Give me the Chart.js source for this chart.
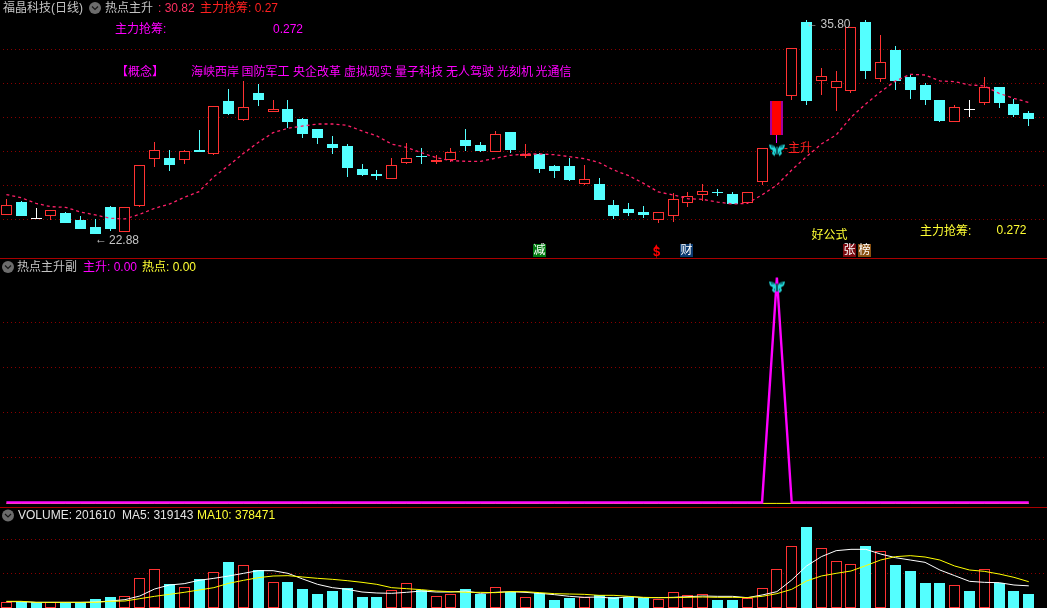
<!DOCTYPE html>
<html>
<head>
<meta charset="utf-8">
<title>福晶科技(日线)</title>
<script src="https://cdn.jsdelivr.net/npm/chart.js@4"></script>
<style>
html,body{margin:0;padding:0;background:#000;overflow:hidden;width:1047px;height:608px}
canvas{position:absolute;left:-1px;display:block}
.sep{position:absolute;left:0;width:1047px;height:1px;background:#a80000}
</style>
</head>
<body>
<canvas id="price" width="1052" height="258" style="top:0"></canvas>
<canvas id="signal" width="1052" height="248" style="top:259px"></canvas>
<canvas id="volume" width="1052" height="100" style="top:508px"></canvas>
<div class="sep" style="top:258px"></div>
<div class="sep" style="top:507px"></div>
<script>
// ---------- data ----------
const opens  = [24.05,24.79,23.77,23.99,24.13,23.73,23.30,24.51,23.02,24.59,27.43,27.45,27.37,27.95,27.73,30.91,29.78,31.39,30.27,30.43,29.82,29.22,28.31,28.19,26.80,26.50,26.22,27.17,27.59,27.25,27.33,28.56,28.25,27.85,29.04,27.61,27.71,26.99,26.99,25.92,25.90,24.63,24.39,24.21,23.75,23.99,24.77,25.26,25.38,25.28,24.73,26.04,28.86,31.23,35.68,32.14,31.71,31.53,35.68,32.26,33.99,32.36,31.88,30.97,29.66,30.35,30.81,31.75,30.73,30.19];
const highs  = [24.97,24.85,24.43,24.31,24.21,23.97,23.79,24.59,24.49,27.03,28.41,27.95,27.95,29.16,30.63,31.63,32.12,31.94,30.97,30.97,29.88,29.22,28.80,28.31,27.11,26.74,27.47,28.37,28.07,27.65,28.07,29.22,28.43,29.10,29.04,28.31,27.77,27.05,27.47,27.05,26.26,24.93,24.75,24.57,24.19,25.36,25.42,25.90,25.58,25.42,25.40,28.05,30.91,34.09,35.80,32.90,32.72,35.36,35.80,34.89,34.23,32.48,31.98,30.97,30.67,30.97,32.36,31.75,31.03,30.31];
const lows   = [24.05,23.97,23.77,23.75,23.54,23.18,22.88,23.08,23.02,24.49,26.95,26.68,27.13,27.83,27.67,30.06,29.72,30.61,30.27,29.28,28.68,28.31,27.71,26.32,26.38,26.14,26.22,27.11,27.11,27.11,27.23,27.89,27.83,27.85,27.77,27.49,26.56,26.26,26.08,25.84,24.93,23.79,23.97,23.85,23.54,23.61,24.51,24.89,25.17,24.67,24.69,25.84,28.35,30.97,30.67,31.27,30.31,31.41,32.24,32.06,31.57,31.03,30.67,29.64,29.66,29.94,30.67,30.49,29.94,29.40];
const closes = [24.61,23.97,23.77,24.31,23.54,23.18,22.88,23.18,24.49,27.03,27.93,27.05,27.87,27.83,30.63,30.12,30.53,30.97,30.43,29.64,28.92,28.68,28.07,26.87,26.44,26.38,27.03,27.45,27.53,27.35,27.81,28.19,27.89,28.90,27.95,27.71,26.80,26.68,26.14,26.18,24.93,23.97,24.15,24.03,24.19,24.97,25.15,25.46,25.34,24.71,25.40,28.05,30.91,34.09,30.91,32.40,32.10,35.36,32.72,33.24,32.12,31.57,30.97,29.70,30.53,30.35,31.73,30.79,30.06,29.82];
const mainRise = [25.26,25.07,24.73,24.53,24.49,24.21,24.03,23.83,23.79,24.07,24.43,24.69,25.09,25.44,26.34,27.01,27.75,28.41,29.00,29.26,29.40,29.52,29.52,29.44,29.10,28.80,28.31,28.11,27.79,27.49,27.31,27.27,27.27,27.45,27.63,27.71,27.71,27.67,27.55,27.43,27.19,26.74,26.40,25.94,25.42,25.24,25.01,24.97,24.81,24.69,24.73,25.24,25.84,26.74,27.55,28.31,28.86,29.92,30.73,31.47,32.12,32.52,32.48,32.12,32.08,31.88,31.82,31.37,31.07,30.82];
const volumes = [81600,81600,81600,81600,81600,81600,129600,158400,172800,427200,561600,340800,297600,412800,513600,662400,614400,547200,369600,374400,273600,201600,244800,288000,158400,158400,254400,355200,259200,168000,196800,273600,201600,297600,230400,153600,211200,115200,144000,153600,182400,158400,158400,144000,124800,225600,182400,196800,115200,115200,139200,283200,556800,888000,1166400,859200,672000,628800,892800,816000,619200,532800,360000,360000,326400,244800,556800,364800,244800,201610];
const volumeMa5 = [91200,91200,81600,81600,81600,81600,86400,100800,120000,172800,273600,331200,350400,398400,427200,460800,499200,537600,537600,499200,417600,340800,292800,268800,230400,216000,211200,225600,244800,230400,230400,244800,211200,225600,235200,225600,211200,192000,168000,153600,158400,139200,163200,148800,148800,153600,163200,172800,168000,168000,148800,187200,235200,403200,604800,739200,825600,844800,844800,777600,724800,691200,657600,547200,465600,384000,369600,364800,331200,319143];
const volumeMa10 = [96000,96000,81600,81600,81600,81600,81600,96000,100800,134400,168000,196800,225600,259200,292800,355200,398400,436800,460800,465600,446400,427200,412800,393600,369600,340800,292800,278400,264000,244800,235200,225600,225600,220800,235200,235200,220800,206400,201600,196800,182400,182400,168000,153600,148800,148800,153600,158400,153600,153600,148800,168000,206400,268800,388800,460800,499200,532800,609600,691200,739200,753600,734400,691200,604800,547200,528000,489600,441600,378471];
const signalRise = [0,0,0,0,0,0,0,0,0,0,0,0,0,0,0,0,0,0,0,0,0,0,0,0,0,0,0,0,0,0,0,0,0,0,0,0,0,0,0,0,0,0,0,0,0,0,0,0,0,0,0,0,1,0,0,0,0,0,0,0,0,0,0,0,0,0,0,0,0,0];
const signalHot = [-0.004,-0.004,-0.004,-0.004,-0.004,-0.004,-0.004,-0.004,-0.004,-0.004,-0.004,-0.004,-0.004,-0.004,-0.004,-0.004,-0.004,-0.004,-0.004,-0.004,-0.004,-0.004,-0.004,-0.004,-0.004,-0.004,-0.004,-0.004,-0.004,-0.004,-0.004,-0.004,-0.004,-0.004,-0.004,-0.004,-0.004,-0.004,-0.004,-0.004,-0.004,-0.004,-0.004,-0.004,-0.004,-0.004,-0.004,-0.004,-0.004,-0.004,-0.004,-0.004,-0.004,-0.004,-0.004,-0.004,-0.004,-0.004,-0.004,-0.004,-0.004,-0.004,-0.004,-0.004,-0.004,-0.004,-0.004,-0.004,-0.004,-0.004];
const signalIndex = 52;
const priceMarkValue = 27.95;
const signalMarkValue = 0.958;
const priceGridTicks = [34.02,31.97,29.92,27.86,25.81,23.76];
const signalGridTicks = [0.2,0.4,0.6,0.8];
const volumeGridTicks = [500000,990000];
const dayLabels = Array.from({length: 71}, (_, i) => String(i + 1));

// ---------- texts (x, y in page pixels) ----------
const priceTexts = [
  ['福晶科技(日线)', 3, 9, '#c4c4c4'], ['热点主升', 105, 9, '#c4c4c4'],
  [': 30.82', 158, 9, '#ff3060'], ['主力抢筹: 0.27', 200, 9, '#ff2020'],
  ['主力抢筹:', 115, 30, '#ff00ff'], ['0.272', 273, 29.5, '#ff00ff'],
  ['【概念】', 116, 73, '#ff00ff'],
  ['海峡西岸', 191, 73, '#ff00ff'], ['国防军工', 241.5, 73, '#ff00ff'], ['央企改革', 293, 73, '#ff00ff'],
  ['虚拟现实', 344, 73, '#ff00ff'], ['量子科技', 395, 73, '#ff00ff'], ['无人驾驶', 446, 73, '#ff00ff'],
  ['光刻机', 497, 73, '#ff00ff'], ['光通信', 535.5, 73, '#ff00ff'],
  ['←', 95, 240, '#c4c4c4'], ['22.88', 109, 240.5, '#c4c4c4'],
  ['←', 806, 24, '#c4c4c4'], ['35.80', 820.5, 24.5, '#c4c4c4'],
  ['-主升', 784, 149, '#ff2020'],
  ['好公式', 811.5, 236, '#ffff33'], ['主力抢筹:', 920, 232, '#ffff33'], ['0.272', 996.5, 230.5, '#ffff33']
];
const signalTexts = [
  ['热点主升副', 17, 268, '#c4c4c4'], ['主升: 0.00', 83, 268, '#ff00ff'], ['热点: 0.00', 142, 268, '#ffff33']
];
const volumeTexts = [
  ['VOLUME: 201610  MA5: 319143', 18, 516, '#e4e4e4'], ['MA10: 378471', 197, 516, '#ffff33']
];
const badges = [
  ['减', 533, 244, '#007a10'], ['财', 680, 244, '#0a3a70'], ['张', 843, 244, '#7a0a10'], ['榜', 858, 244, '#8a5010']
];
const iconSpots = {price: [[95, 8]], signal: [[8, 267]], volume: [[8, 515.5]]};

// ---------- colours ----------
const RED = '#ff3232', CYAN = '#54ffff', WHITE = '#ffffff', GRID = '#8a0000', BLACK = '#000000';
const MAGENTA = '#ff00ff';
const FONT = '12px "Liberation Sans","Noto Sans CJK SC",sans-serif';
const candleColor = opens.map((o, i) => closes[i] > o ? RED : closes[i] < o ? CYAN : WHITE);
const wickColor = candleColor.map((c, i) => i === signalIndex ? MAGENTA : c);
const bodyFill = candleColor.map((c, i) => c === RED ? BLACK : c);
const volColor = candleColor.map(c => c === RED ? RED : CYAN);
const volFill = candleColor.map(c => c === RED ? BLACK : CYAN);

function makeButterfly() {
  const c = document.createElement('canvas');
  c.width = 16; c.height = 13;
  const g = c.getContext('2d');
  g.fillStyle = '#22d8d8';
  g.beginPath(); g.moveTo(7.5, 6); g.lineTo(5, 2); g.lineTo(0, 1); g.lineTo(1, 5); g.lineTo(4, 7);
  g.lineTo(3, 10); g.lineTo(5.5, 12.5); g.lineTo(7.5, 8); g.closePath(); g.fill();
  g.beginPath(); g.moveTo(8.5, 6); g.lineTo(11, 2); g.lineTo(16, 1); g.lineTo(15, 5); g.lineTo(12, 7);
  g.lineTo(13, 10); g.lineTo(10.5, 12.5); g.lineTo(8.5, 8); g.closePath(); g.fill();
  g.fillStyle = '#0d8088';
  g.fillRect(2, 2, 3, 2); g.fillRect(11, 2, 3, 2); g.fillRect(5, 8, 1, 2); g.fillRect(10, 8, 1, 2);
  g.fillStyle = '#0a5a60'; g.fillRect(7, 3, 2, 8);
  return c;
}
const butterfly = makeButterfly();

const snapBars = {
  id: 'snapBars',
  beforeDatasetsDraw(chart) {
    chart.getSortedVisibleDatasetMetas().forEach(m => {
      if (m.type !== 'bar') return;
      m.data.forEach(el => {
        el.x = Math.floor(el.x) + 0.5;
        el.y = Math.round(el.y);
        el.base = Math.round(el.base);
      });
    });
  }
};

function overlay(name, texts, top, extra) {
  return {
    id: 'overlay',
    afterDraw(chart) {
      const g = chart.ctx;
      g.save();
      g.translate(1, -top);
      g.font = FONT;
      g.textBaseline = 'middle';
      (iconSpots[name] || []).forEach(([x, y]) => {
        g.fillStyle = '#6c6c6c';
        g.beginPath(); g.arc(x, y, 6, 0, Math.PI * 2); g.fill();
        g.strokeStyle = '#161616'; g.lineWidth = 1.2;
        g.beginPath(); g.moveTo(x - 3, y - 1.5); g.lineTo(x, y + 1.5); g.lineTo(x + 3, y - 1.5); g.stroke();
      });
      texts.forEach(([t, x, y, col]) => { g.fillStyle = col; g.fillText(t, x, y); });
      if (extra) extra(g);
      g.restore();
    }
  };
}

function drawBadges(g) {
  g.textBaseline = 'middle';
  badges.forEach(([t, x, y, col]) => {
    g.fillStyle = col; g.fillRect(x, y, 13, 13);
    g.fillStyle = WHITE; g.fillText(t, x + 0.5, y + 7);
  });
  g.fillStyle = '#ff0000';
  g.font = 'bold 13px "Liberation Sans",sans-serif';
  g.fillText('$', 653, 252.5);
  g.font = '6px "DejaVu Sans",sans-serif';
  g.fillText('▲', 654, 246.5);
}

function baseOptions(min, max, ticks) {
  return {
    responsive: false, animation: false, devicePixelRatio: 1,
    events: [], layout: {padding: 0, autoPadding: false},
    plugins: {legend: {display: false}, title: {display: false}, tooltip: {enabled: false}},
    scales: {
      x: {display: false, offset: true, grid: {display: false}},
      y: {
        display: true, min, max,
        ticks: {display: false},
        border: {display: false, dash: [1, 3]},
        grid: {color: GRID, lineWidth: 1, drawTicks: false},
        afterBuildTicks: s => { s.ticks = ticks.map(value => ({value})); }
      }
    }
  };
}

Chart.defaults.font.family = '"Liberation Sans","Noto Sans CJK SC",sans-serif';

new Chart(document.getElementById('price'), {
  data: {
    labels: dayLabels,
    datasets: [
      {type: 'line', label: '热点主升', data: mainRise, borderColor: '#ff2068', borderWidth: 1.3,
       borderDash: [3, 3], pointRadius: 0, tension: 0, order: 1},
      {type: 'line', label: '主升标记', data: mainRise.map((_, i) => i === signalIndex ? priceMarkValue : null),
       showLine: false, pointStyle: butterfly, pointRadius: 8, order: 0},
      {type: 'bar', label: '主升K线', data: opens.map((o, i) => i === signalIndex ? [o, closes[i]] : null),
       backgroundColor: '#ff0000', borderColor: '#a000a0',
       borderWidth: {left: 2, right: 2, top: 0, bottom: 0}, borderSkipped: false,
       barThickness: 13, grouped: false, inflateAmount: 0, order: 2},
      {type: 'bar', label: 'K线', data: opens.map((o, i) => i === signalIndex ? null : [o, closes[i]]),
       backgroundColor: bodyFill, borderColor: candleColor, borderWidth: 1, borderSkipped: false,
       barThickness: 11, minBarLength: 1, grouped: false, inflateAmount: 0, order: 3},
      {type: 'bar', label: '影线', data: lows.map((l, i) => [l, highs[i]]),
       backgroundColor: wickColor, borderWidth: 0,
       barThickness: 1, grouped: false, inflateAmount: 0, order: 4}
    ]
  },
  options: baseOptions(21.432, 37.007, priceGridTicks),
  plugins: [snapBars, overlay('price', priceTexts, 0, drawBadges)]
});

new Chart(document.getElementById('signal'), {
  data: {
    labels: dayLabels,
    datasets: [
      {type: 'line', label: '主升标记', data: signalRise.map((_, i) => i === signalIndex ? signalMarkValue : null),
       showLine: false, pointStyle: butterfly, pointRadius: 8, order: 0},
      {type: 'line', label: '主升', data: signalRise, borderColor: MAGENTA, borderWidth: 2.4,
       pointRadius: 0, tension: 0, order: 1},
      {type: 'line', label: '热点', data: signalHot, borderColor: '#ffff00', borderWidth: 1,
       pointRadius: 0, tension: 0, order: 2}
    ]
  },
  options: baseOptions(-0.02, 1.0822, signalGridTicks),
  plugins: [overlay('signal', signalTexts, 259)]
});

new Chart(document.getElementById('volume'), {
  data: {
    labels: dayLabels,
    datasets: [
      {type: 'line', label: 'MA5', data: volumeMa5, borderColor: '#ffffff', borderWidth: 1,
       pointRadius: 0, tension: 0, order: 1},
      {type: 'line', label: 'MA10', data: volumeMa10, borderColor: '#ffff00', borderWidth: 1,
       pointRadius: 0, tension: 0, order: 0},
      {type: 'bar', label: 'VOLUME', data: volumes, backgroundColor: volFill, borderColor: volColor,
       borderWidth: 1, borderSkipped: false, barThickness: 11, grouped: false, inflateAmount: 0, order: 2}
    ]
  },
  options: baseOptions(0, 1440000, volumeGridTicks),
  plugins: [snapBars, overlay('volume', volumeTexts, 508)]
});
</script>
</body>
</html>
